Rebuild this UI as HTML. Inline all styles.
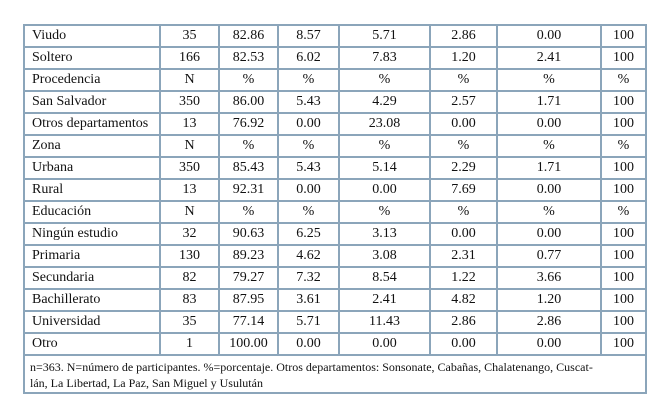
<!DOCTYPE html>
<html><head><meta charset="utf-8"><style>
body{margin:0;background:#fff;width:668px;height:416px;overflow:hidden}
table{position:absolute;left:23px;top:24px;border-collapse:collapse;font-family:"Liberation Serif",serif;font-size:14px;color:#111;table-layout:fixed}
td{border:2px solid #8ba5ba;height:20px;padding:0;text-align:center;line-height:20px}
td:first-child{text-align:left;padding-left:7px}
td.f{font-size:12px;text-align:left;line-height:16px;height:33px;vertical-align:top;padding:3px 5px 0 5px}
</style></head><body>
<table>
<colgroup><col style="width:136px"><col style="width:59px"><col style="width:59px"><col style="width:61px"><col style="width:91px"><col style="width:67px"><col style="width:104px"><col style="width:45px"></colgroup>
<tr><td>Viudo</td><td>35</td><td>82.86</td><td>8.57</td><td>5.71</td><td>2.86</td><td>0.00</td><td>100</td></tr>
<tr><td>Soltero</td><td>166</td><td>82.53</td><td>6.02</td><td>7.83</td><td>1.20</td><td>2.41</td><td>100</td></tr>
<tr><td>Procedencia</td><td>N</td><td>%</td><td>%</td><td>%</td><td>%</td><td>%</td><td>%</td></tr>
<tr><td>San Salvador</td><td>350</td><td>86.00</td><td>5.43</td><td>4.29</td><td>2.57</td><td>1.71</td><td>100</td></tr>
<tr><td>Otros departamentos</td><td>13</td><td>76.92</td><td>0.00</td><td>23.08</td><td>0.00</td><td>0.00</td><td>100</td></tr>
<tr><td>Zona</td><td>N</td><td>%</td><td>%</td><td>%</td><td>%</td><td>%</td><td>%</td></tr>
<tr><td>Urbana</td><td>350</td><td>85.43</td><td>5.43</td><td>5.14</td><td>2.29</td><td>1.71</td><td>100</td></tr>
<tr><td>Rural</td><td>13</td><td>92.31</td><td>0.00</td><td>0.00</td><td>7.69</td><td>0.00</td><td>100</td></tr>
<tr><td>Educación</td><td>N</td><td>%</td><td>%</td><td>%</td><td>%</td><td>%</td><td>%</td></tr>
<tr><td>Ningún estudio</td><td>32</td><td>90.63</td><td>6.25</td><td>3.13</td><td>0.00</td><td>0.00</td><td>100</td></tr>
<tr><td>Primaria</td><td>130</td><td>89.23</td><td>4.62</td><td>3.08</td><td>2.31</td><td>0.77</td><td>100</td></tr>
<tr><td>Secundaria</td><td>82</td><td>79.27</td><td>7.32</td><td>8.54</td><td>1.22</td><td>3.66</td><td>100</td></tr>
<tr><td>Bachillerato</td><td>83</td><td>87.95</td><td>3.61</td><td>2.41</td><td>4.82</td><td>1.20</td><td>100</td></tr>
<tr><td>Universidad</td><td>35</td><td>77.14</td><td>5.71</td><td>11.43</td><td>2.86</td><td>2.86</td><td>100</td></tr>
<tr><td>Otro</td><td>1</td><td>100.00</td><td>0.00</td><td>0.00</td><td>0.00</td><td>0.00</td><td>100</td></tr>
<tr><td class="f" colspan="8">n=363. N=número de participantes. %=porcentaje. Otros departamentos: Sonsonate, Cabañas, Chalatenango, Cuscat-<br>lán, La Libertad, La Paz, San Miguel y Usulután</td></tr>
</table>
</body></html>
